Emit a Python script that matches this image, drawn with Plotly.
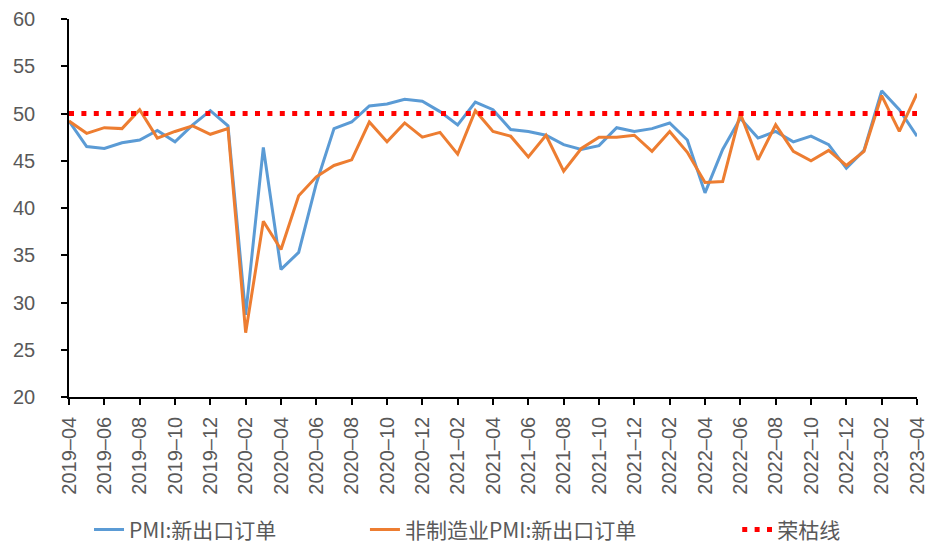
import plotly.graph_objects as go

months = [
    "2019-04","2019-05","2019-06","2019-07","2019-08","2019-09","2019-10","2019-11","2019-12",
    "2020-01","2020-02","2020-03","2020-04","2020-05","2020-06","2020-07","2020-08","2020-09",
    "2020-10","2020-11","2020-12","2021-01","2021-02","2021-03","2021-04","2021-05","2021-06",
    "2021-07","2021-08","2021-09","2021-10","2021-11","2021-12","2022-01","2022-02","2022-03",
    "2022-04","2022-05","2022-06","2022-07","2022-08","2022-09","2022-10","2022-11","2022-12",
    "2023-01","2023-02","2023-03","2023-04",
]

pmi_export = [
    49.2, 46.5, 46.3, 46.9, 47.2, 48.2, 47.0, 48.8, 50.3,
    48.7, 28.7, 46.4, 33.5, 35.3, 42.6, 48.4, 49.1, 50.8,
    51.0, 51.5, 51.3, 50.2, 48.8, 51.2, 50.4, 48.3, 48.1,
    47.7, 46.7, 46.2, 46.6, 48.5, 48.1, 48.4, 49.0, 47.2,
    41.6, 46.2, 49.5, 47.4, 48.1, 47.0, 47.6, 46.7, 44.2,
    46.1, 52.4, 50.4, 47.6,
]

nonmfg_export = [
    49.2, 47.9, 48.5, 48.4, 50.4, 47.4, 48.1, 48.7, 47.8,
    48.4, 26.8, 38.6, 35.6, 41.3, 43.3, 44.5, 45.1, 49.1,
    47.0, 49.0, 47.5, 48.0, 45.7, 50.3, 48.1, 47.6, 45.4,
    47.7, 43.9, 46.3, 47.5, 47.5, 47.7, 46.0, 48.1, 45.9,
    42.7, 42.8, 50.0, 45.1, 48.8, 46.0, 45.0, 46.1, 44.5,
    46.0, 51.9, 48.1, 52.1,
]

boom_bust = 50
tick_vals = months[::2]
tick_text = [m.replace("-", "–") for m in tick_vals]

names = ["PMI:新出口订单", "非制造业PMI:新出口订单", "荣枯线"]

fig = go.Figure()
fig.add_trace(go.Scatter(x=months, y=pmi_export, mode="lines", name=names[0],
                         legend="legend",
                         line=dict(color="#5B9BD5", width=3)))
fig.add_trace(go.Scatter(x=months, y=nonmfg_export, mode="lines", name=names[1],
                         legend="legend2",
                         line=dict(color="#ED7D31", width=3)))
fig.add_trace(go.Scatter(x=[months[0], months[-1]], y=[boom_bust, boom_bust], mode="lines",
                         name=names[2], legend="legend3",
                         line=dict(color="#FF0000", width=5, dash="5px,7.4px")))

leg_common = dict(orientation="h", xanchor="left",
                  yref="container", y=0.032, yanchor="middle",
                  font=dict(family="Noto Sans CJK SC", size=21, color="#595959"),
                  bgcolor="rgba(0,0,0,0)")

fig.update_layout(
    width=933, height=539,
    margin=dict(l=61, r=24, t=11, b=150, autoexpand=False),
    paper_bgcolor="white", plot_bgcolor="white",
    font=dict(family="Liberation Sans, Arial, sans-serif", size=20, color="#595959"),
    showlegend=True,
    legend=dict(x=0.0236, **leg_common),
    legend2=dict(x=0.349, **leg_common),
    legend3=dict(x=0.788, **leg_common),
)
fig.update_xaxes(
    type="category", range=[0, len(months) - 1], automargin=False,
    tickmode="array", tickvals=tick_vals, ticktext=tick_text,
    tickangle=-90, ticks="outside", ticklen=6, tickcolor="black", tickwidth=1.5,
    ticklabelstandoff=4,
    showline=True, linecolor="black", linewidth=1.5, showgrid=False, zeroline=False,
)
fig.update_yaxes(
    range=[20, 60], dtick=5, ticks="outside", ticklen=6, tickcolor="black", tickwidth=1.5,
    automargin=False, ticklabelstandoff=22,
    showline=True, linecolor="black", linewidth=1.5, showgrid=False, zeroline=False,
)

fig.write_html("out.html")
